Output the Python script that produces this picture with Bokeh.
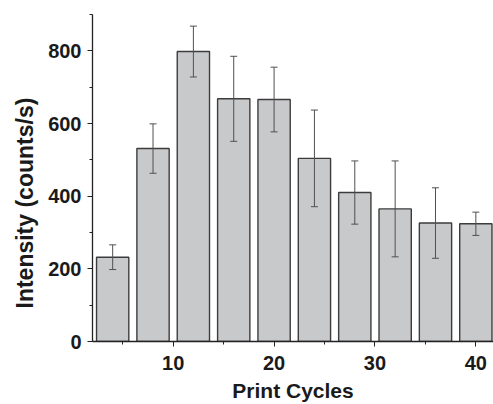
from bokeh.plotting import figure
from bokeh.models import ColumnDataSource, Whisker, TeeHead, SingleIntervalTicker, Range1d, Title
from bokeh.embed import file_html
from bokeh.resources import INLINE

cycles = [4, 8, 12, 16, 20, 24, 28, 32, 36, 40]
intensity = [232, 531, 798, 668, 666, 504, 410, 365, 326, 324]
error = [34, 68, 70, 117, 89, 133, 87, 132, 97, 32]

src = ColumnDataSource(dict(
    x=cycles, y=intensity,
    lo=[v - e for v, e in zip(intensity, error)],
    hi=[v + e for v, e in zip(intensity, error)],
))

p = figure(width=493, height=404, output_backend="svg", toolbar_location=None,
           x_range=Range1d(2, 41.75), y_range=Range1d(0, 900),
           min_border_left=92, min_border_right=0, min_border_top=14, min_border_bottom=62)
p.outline_line_color = None
p.xgrid.visible = False
p.ygrid.visible = False
p.background_fill_color = "white"
p.border_fill_color = "white"

p.vbar(x="x", top="y", width=3.2, bottom=0, source=src,
       fill_color="#c8c9cb", line_color="#3c3c3c", line_width=1.4)

w = Whisker(base="x", lower="lo", upper="hi", source=src,
            line_color="#505050", line_width=1, level="overlay",
            upper_head=TeeHead(size=7, line_color="#505050", line_width=1),
            lower_head=TeeHead(size=7, line_color="#505050", line_width=1))
p.add_layout(w)

p.xaxis.ticker = SingleIntervalTicker(interval=10, num_minor_ticks=2)
p.yaxis.ticker = SingleIntervalTicker(interval=200, num_minor_ticks=2)

for ax in (p.xaxis[0], p.yaxis[0]):
    ax.axis_line_color = "#222222"
    ax.axis_line_width = 1.3
    ax.major_tick_line_color = "#222222"
    ax.minor_tick_line_color = "#222222"
    ax.major_tick_in = 0
    ax.major_tick_out = 5
    ax.minor_tick_in = 0
    ax.minor_tick_out = 3
    ax.major_label_text_font = "Liberation Sans"
    ax.major_label_text_font_style = "bold"
    ax.major_label_text_font_size = "20px"
    ax.major_label_text_color = "#1a1a1a"
    ax.axis_label_text_font = "Liberation Sans"
    ax.axis_label_text_font_style = "bold"
    ax.axis_label_text_color = "#1a1a1a"

p.xaxis.axis_label = "Print Cycles"
p.xaxis.axis_label_text_font_size = "21px"
p.xaxis.major_label_standoff = 9
p.xaxis.axis_label_standoff = 6

p.yaxis.major_label_standoff = 6

ytitle = Title(text="Intensity (counts/s)", align="left", offset=33,
               text_font="Liberation Sans", text_font_style="bold",
               text_font_size="23px", text_color="#1a1a1a", standoff=16)
p.add_layout(ytitle, "left")

open("out.html", "w").write(file_html(p, INLINE))
